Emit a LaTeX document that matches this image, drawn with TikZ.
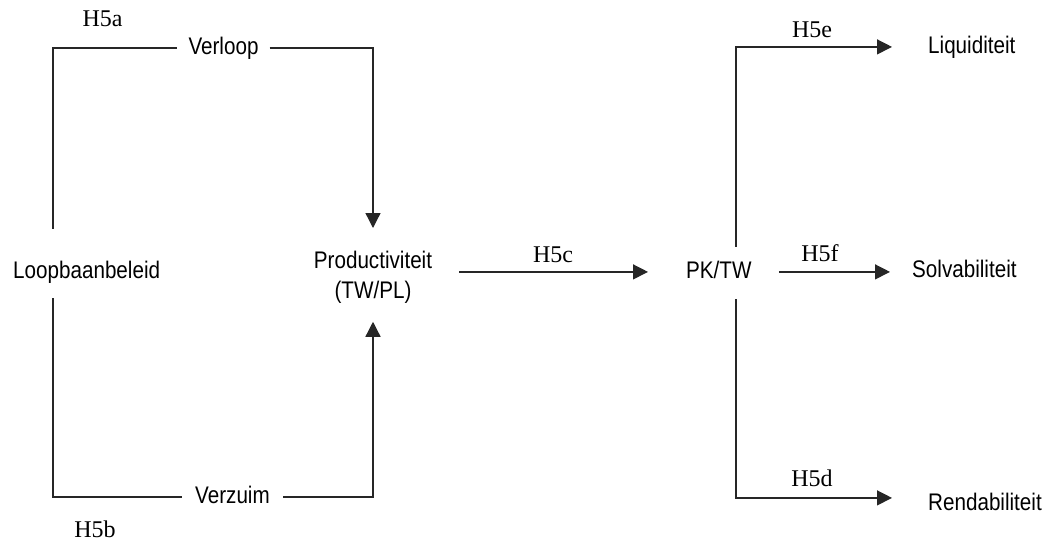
\documentclass[tikz,border=0pt]{standalone}
\usepackage{fontspec}
\newfontfamily\varfont[FakeStretch=0.86]{Liberation Sans}
\newfontfamily\hypfont{Liberation Serif}
\usetikzlibrary{arrows.meta}
\begin{document}
\begin{tikzpicture}[x=1pt,y=-1pt,
  var/.style={font=\varfont\fontsize{24}{30}\selectfont, inner sep=0pt,
              text height=17.2pt, text depth=5pt},
  hyp/.style={font=\hypfont\fontsize{24}{28}\selectfont, inner sep=0pt, anchor=base},
  link/.style={line width=1.3pt, draw=black!85},
  flow/.style={link, -{Triangle[length=15pt,width=15pt]}}]

\useasboundingbox (0,0) rectangle (1052,541);

% x positions of the two vertical branch lines
\coordinate (lx) at (53,0);
\coordinate (px) at (736,0);

% variables
\node[var, anchor=base west] (loop) at (13,278) {Loopbaanbeleid};
\node[var, inner xsep=11pt] (verloop) at (223.5,48) {Verloop};
\node[var, inner xsep=13.5pt] (verzuim) at (232.5,497) {Verzuim};
\node[font=\varfont\fontsize{24}{30}\selectfont, inner sep=0pt, align=center,
      anchor=north] (prod) at (373,251) {Productiviteit\\(TW/PL)};
\node[var, anchor=base west] (pk) at (686,278) {PK/TW};
\node[var, anchor=base west] (liq) at (928,53) {Liquiditeit};
\node[var, anchor=base west] (solv) at (912,277) {Solvabiliteit};
\node[var, anchor=base west] (rend) at (928,510) {Rendabiliteit};

% hypothesis labels
\node[hyp] (h5a) at (102.5,26) {H5a};
\node[hyp] (h5b) at (95,537) {H5b};
\node[hyp] (h5c) at (553,262) {H5c};
\node[hyp] (h5e) at (812,37) {H5e};
\node[hyp] (h5f) at (820,261) {H5f};
\node[hyp] (h5d) at (812,486) {H5d};

% left part: career policy via turnover and absence to productivity
\draw[link, shorten <=32pt] (loop.north -| lx) |- (verloop.west);
\draw[flow, shorten >=23pt] (verloop.east) -| (prod.north);
\draw[link, shorten <=15pt] (loop.south -| lx) |- (verzuim.west);
\draw[flow, shorten >=18pt] (verzuim.east) -| (prod.south);

% productivity to personnel costs
\draw[flow, shorten <=27pt, shorten >=38pt] (prod.east |- pk) -- (pk.west);

% personnel costs to the three financial ratios
\draw[flow, shorten <=14pt, shorten >=36pt] (pk.north -| px) |- (liq.west);
\draw[flow, shorten <=27pt, shorten >=22pt] (pk.east) -- (pk.east -| solv.west);
\draw[flow, shorten <=16pt, shorten >=36pt] (pk.south -| px) |- ([yshift=6pt]rend.west);
\end{tikzpicture}
\end{document}
